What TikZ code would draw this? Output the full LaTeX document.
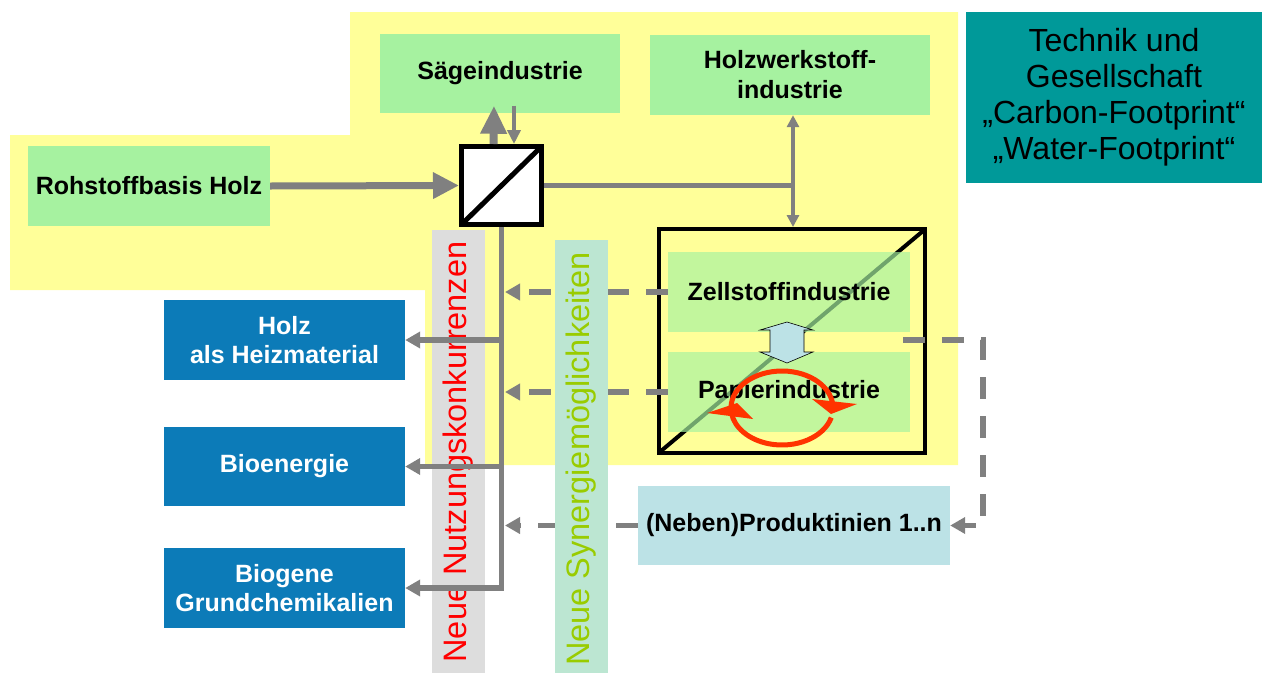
\documentclass[tikz,border=0pt]{standalone}
\usepackage{fontspec}
\setmainfont{Liberation Sans}
\usetikzlibrary{arrows.meta,calc}
\definecolor{bgyellow}{HTML}{FFFF99}
\definecolor{boxgreen}{HTML}{A6F2A0}
\definecolor{tealbox}{HTML}{009999}
\definecolor{blueboxc}{HTML}{0C7BB8}
\definecolor{lightbluebox}{HTML}{BCE2E6}
\definecolor{bandgray}{HTML}{DDDDDD}
\definecolor{bandgreen}{HTML}{BCE6D2}
\definecolor{textgreen}{HTML}{99CC00}
\definecolor{linegray}{HTML}{808080}
\definecolor{arrowred}{HTML}{FF3300}
\begin{document}
\begin{tikzpicture}[x=1pt,y=-1pt,
  lbl/.style={font=\fontsize{25}{30}\selectfont\bfseries, align=center, inner sep=0pt},
  greenbox/.style={lbl, fill=boxgreen},
  innerbox/.style={lbl, fill=boxgreen, fill opacity=0.68, text opacity=1, minimum width=242pt, minimum height=80pt},
  bluebox/.style={lbl, fill=blueboxc, text=white, minimum width=241pt, minimum height=80pt, font=\fontsize{25}{29}\selectfont\bfseries},
  bandtext/.style={rotate=90, inner sep=0pt, font=\fontsize{32.5}{36}\selectfont},
  gline/.style={draw=linegray, line width=5.5pt},
  tipmid/.style={-{Triangle[length=15pt,width=16pt]}},
  gdash/.style={draw=linegray, line width=5.5pt, dash pattern=on 22pt off 17pt, tipmid},
]
\useasboundingbox (0,0) rectangle (1262,675);
\fill[white] (0,0) rectangle (1262,675);
% yellow background
\fill[bgyellow] (350,12) -- (958,12) -- (958,465) -- (425,465) -- (425,290) -- (10,290) -- (10,135) -- (350,135) -- cycle;
% top boxes
\node[greenbox, minimum width=242pt, minimum height=80pt] (roh) at (149,186) {Rohstoffbasis Holz};
\node[greenbox, minimum width=240pt, minimum height=79pt] (saege) at (500,73) {Sägeindustrie};
\node[greenbox, minimum width=280pt, minimum height=80pt] (holzw) at (790,75) {Holzwerkstoff-\\industrie};
\node[fill=tealbox, minimum width=296pt, minimum height=171pt, inner sep=0pt, align=center, font=\fontsize{32}{36}\selectfont] (tg) at (1114,97.5) {Technik und\\Gesellschaft\\„Carbon-Footprint“\\„Water-Footprint“};
% pulp and paper box
\node[draw=black, line width=4pt, minimum width=266pt, minimum height=224pt, inner sep=0pt] (pulp) at (792,341) {};
\draw[line width=4pt] ($(pulp.south west)+(4,-4)$) -- ($(pulp.north east)+(-4,4)$);
\node[innerbox] (zell) at (789,292) {Zellstoffindustrie};
\node[innerbox] (papier) at (789,392) {Papierindustrie};
% exchange double arrow
\draw[fill=lightbluebox, line width=0.6pt] (787,322) -- (813,330) -- (804,330) -- (804,352) -- (813,352) -- (787,363) -- (760,352) -- (770,352) -- (770,330) -- (760,330) -- cycle;
% red cycle
\coordinate (rc0) at (782,408);
\draw[arrowred, line width=5pt] (rc0) ++(185:51pt and 37pt) arc[start angle=185, end angle=5, x radius=51pt, y radius=37pt];
\draw[arrowred, line width=5pt] (rc0) ++(-15:51pt and 37pt) arc[start angle=-15, end angle=-172, x radius=51pt, y radius=37pt];
\fill[arrowred] (812,399) -- (857,404) -- (831,414) -- cycle;
\fill[arrowred] (707,413) -- (737,403) -- (753,419) -- cycle;
% separator
\node[draw=black, fill=white, line width=5pt, minimum width=80pt, minimum height=78pt, inner sep=0pt] (sep) at (501.5,185.5) {};
\draw[line width=5pt] ($(sep.south west)+(2.5,-2.5)$) -- ($(sep.north east)+(-2.5,2.5)$);
% output boxes
\node[bluebox] (heiz) at (284.5,340) {Holz\\als Heizmaterial};
\node[bluebox, minimum height=79pt] (bio) at (284.5,466.5) {Bioenergie};
\node[bluebox] (chem) at (284.5,588) {Biogene\\Grundchemikalien};
\node[lbl, fill=lightbluebox, minimum width=312pt, minimum height=79pt] (prod) at (794,525.5) {(Neben)Produktinien 1..n};
% gray band
\node[fill=bandgray, minimum width=53pt, minimum height=443pt, inner sep=0pt] (gband) at (458.5,451) {};
\node[bandtext, text=red] (gtext) at (458.5,452) {Neue Nutzungskonkurrenzen};
% solid connectors
\draw[draw=linegray, line width=7pt, -{Triangle[length=26pt,width=25pt]}] (roh.east) -- (sep.west);
\draw[draw=linegray, line width=8pt, -{Triangle[length=28pt,width=25pt]}] ($(sep.north)+(-8,0)$) -- ($(saege.south)+(-6,-7)$);
\draw[draw=linegray, line width=3.5pt, -{Triangle[length=14pt,width=13pt]}] ($(saege.south)+(14,-7)$) -- ($(sep.north)+(12.5,0)$);
\coordinate (j1) at (793,185.5);
\draw[gline, line width=5pt] (sep.east) -- (j1);
\draw[draw=linegray, line width=3.5pt, {Triangle[length=12pt,width=12pt]}-{Triangle[length=12pt,width=12pt]}] (holzw.south -| j1) -- (pulp.north -| j1);
\draw[gline, tipmid] (sep.south) |- (chem.east);
\draw[gline, tipmid] (sep.south |- heiz.east) -- (heiz.east);
\draw[gline, tipmid] (sep.south |- bio.east) -- (bio.east);
% dashed connectors
\coordinate (vx) at (505,300);
\draw[gdash] (zell.west) -- (zell.west -| vx);
\draw[gdash] (papier.west) -- (papier.west -| vx);
\draw[gdash] (prod.west) -- (prod.west -| vx);
\coordinate (rs) at (903,340);
\coordinate (rc) at (983,340);
\draw[gdash] (rs) -- (rc) |- (prod.east);
% green band
\node[fill=bandgreen, minimum width=53pt, minimum height=433pt, inner sep=0pt] (sband) at (581.5,456) {};
\node[bandtext, text=textgreen] (stext) at (581.5,459) {Neue Synergiemöglichkeiten};
\end{tikzpicture}
\end{document}
